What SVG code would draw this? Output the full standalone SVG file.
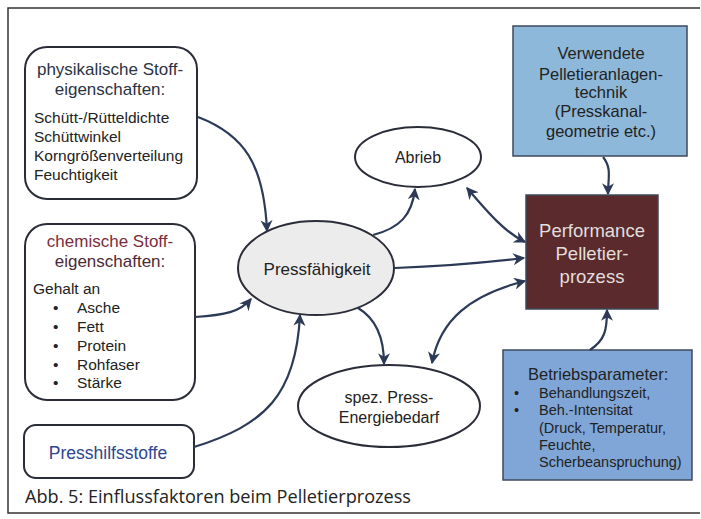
<svg xmlns="http://www.w3.org/2000/svg" width="701" height="519" viewBox="0 0 701 519">
<defs>
<style>
text{font-family:"Liberation Sans",Arial,sans-serif;fill:#222;}
.box{fill:#fff;stroke:#2a2d38;stroke-width:2;}
.ell{fill:#fff;stroke:#2a2d38;stroke-width:2;}
.c{text-anchor:middle;}
.conn path{fill:none;stroke:#2c3a58;stroke-width:2.2;}
</style>
<marker id="ah" viewBox="0 0 10 10" refX="9" refY="5" markerWidth="5.5" markerHeight="5.5" orient="auto-start-reverse" markerUnits="strokeWidth">
<path d="M0,0 L10,5 L0,10 L3,5 z" fill="#2c3a58"/>
</marker>
</defs>
<rect width="701" height="519" fill="#fff"/>
<path d="M700,8 H8 V513 H700" fill="none" stroke="#333" stroke-width="1.5"/>

<g id="physikalisch">
<rect class="box" x="25" y="47" width="172" height="152" rx="22"/>
<text class="c" x="110" y="75" font-size="17" style="fill:#2a3344">physikalische Stoff-</text>
<text class="c" x="110" y="95" font-size="17" style="fill:#2a3344">eigenschaften:</text>
<text x="34" y="123" font-size="15.5">Schütt-/Rütteldichte</text>
<text x="34" y="142" font-size="15.5">Schüttwinkel</text>
<text x="34" y="161" font-size="15.5">Korngrößenverteilung</text>
<text x="34" y="180" font-size="15.5">Feuchtigkeit</text>
</g>

<g id="chemisch">
<rect class="box" x="25" y="224" width="170" height="176" rx="22"/>
<text class="c" x="110" y="247" font-size="17" style="fill:#7b2d3c">chemische Stoff-</text>
<text class="c" x="110" y="267" font-size="17" style="fill:#4a2a36">eigenschaften:</text>
<text x="33" y="294" font-size="15.5">Gehalt an</text>
<g font-size="15.5">
<text x="53" y="313">•</text><text x="77" y="313">Asche</text>
<text x="53" y="332">•</text><text x="77" y="332">Fett</text>
<text x="53" y="351">•</text><text x="77" y="351">Protein</text>
<text x="53" y="370">•</text><text x="77" y="370">Rohfaser</text>
<text x="53" y="388">•</text><text x="77" y="388">Stärke</text>
</g>
</g>

<g id="presshilfsstoffe">
<rect class="box" x="24" y="425" width="170" height="53" rx="12"/>
<text class="c" x="108" y="459" font-size="17.5" style="fill:#2e4590">Presshilfsstoffe</text>
</g>

<g id="pressfaehigkeit">
<ellipse cx="316" cy="268" rx="78" ry="47" fill="#ececec" stroke="#2a2d38" stroke-width="2"/>
<text class="c" x="317" y="275" font-size="17">Pressfähigkeit</text>
</g>

<g id="abrieb">
<ellipse class="ell" cx="418" cy="157" rx="63" ry="30"/>
<text class="c" x="418" y="163" font-size="16">Abrieb</text>
</g>

<g id="energiebedarf">
<ellipse class="ell" cx="389" cy="406" rx="91" ry="41"/>
<text class="c" x="389" y="403" font-size="16">spez. Press-</text>
<text class="c" x="389" y="423" font-size="16">Energiebedarf</text>
</g>

<g id="anlagentechnik">
<rect x="513" y="26" width="174" height="130" fill="#8db8da" stroke="#3d4a5c" stroke-width="1.5"/>
<g font-size="16.5">
<text class="c" x="601" y="59">Verwendete</text>
<text class="c" x="601" y="80">Pelletieranlagen-</text>
<text class="c" x="601" y="98">technik</text>
<text class="c" x="601" y="117">(Presskanal-</text>
<text class="c" x="601" y="137">geometrie  etc.)</text>
</g>
</g>

<g id="performance">
<rect x="526" y="195" width="132" height="114" fill="#5a2a2c" stroke="#3d4a5c" stroke-width="1.5"/>
<g font-size="18.5">
<text class="c" x="592" y="237" style="fill:#e2dede">Performance</text>
<text class="c" x="592" y="260" style="fill:#e2dede">Pelletier-</text>
<text class="c" x="592" y="283" style="fill:#e2dede">prozess</text>
</g>
</g>

<g id="betriebsparameter">
<rect x="503" y="350" width="189" height="130" fill="#7fa6d6" stroke="#3d4a5c" stroke-width="1.5"/>
<text x="528" y="380" font-size="16.5">Betriebsparameter:</text>
<g font-size="14.5">
<text x="514" y="398">•</text><text x="539" y="398">Behandlungszeit,</text>
<text x="514" y="415">•</text><text x="539" y="415">Beh.-Intensitat</text>
<text x="539" y="433">(Druck, Temperatur,</text>
<text x="539" y="450">Feuchte,</text>
<text x="539" y="467">Scherbeanspruchung)</text>
</g>
</g>

<g id="connectors" class="conn">
<path d="M198,117 C245,135 264,165 267,231" marker-end="url(#ah)"/>
<path d="M195,317 C225,315 240,312 251,299" marker-end="url(#ah)"/>
<path d="M194,447 C265,425 296,395 300,315" marker-end="url(#ah)"/>
<path d="M373,235 C400,228 412,215 415,189" marker-end="url(#ah)"/>
<path d="M395,268 C450,266 490,262 524,258" marker-end="url(#ah)"/>
<path d="M358,308 C375,318 384,335 384,364" marker-end="url(#ah)"/>
<path d="M467,188 C490,215 505,232 525,242" marker-start="url(#ah)" marker-end="url(#ah)"/>
<path d="M432,363 C440,320 470,295 525,281" marker-start="url(#ah)" marker-end="url(#ah)"/>
<path d="M603,157 C612,168 608,178 608,194" marker-end="url(#ah)"/>
<path d="M590,350 C605,340 607,330 607,310" marker-end="url(#ah)"/>
</g>

<text x="25" y="503" font-size="18" style="font-family:'Open Sans','Noto Sans',sans-serif;fill:#222" textLength="386" lengthAdjust="spacingAndGlyphs">Abb. 5: Einflussfaktoren beim Pelletierprozess</text>
</svg>
